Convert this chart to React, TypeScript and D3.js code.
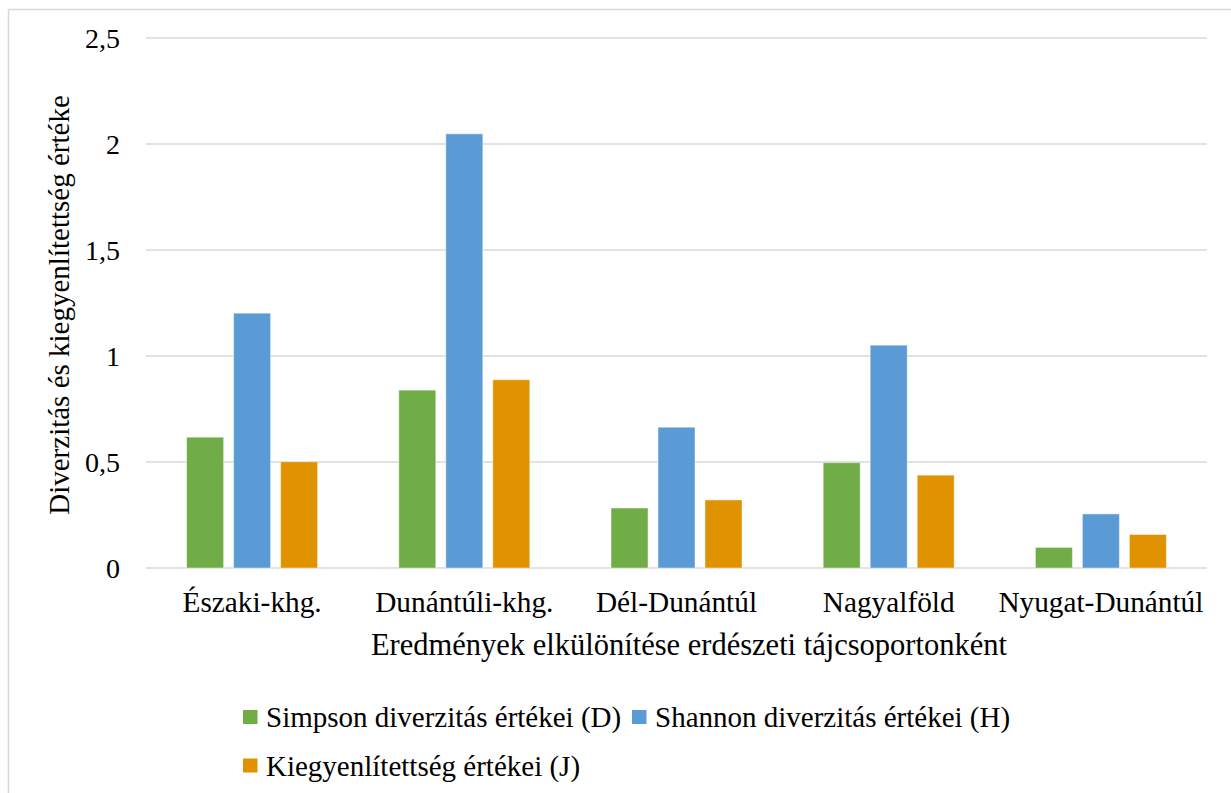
import React from "react";
import * as d3 from "d3";

const categories = ["Északi-khg.", "Dunántúli-khg.", "Dél-Dunántúl", "Nagyalföld", "Nyugat-Dunántúl"];
const simpson = [0.617, 0.839, 0.283, 0.497, 0.097];
const shannon = [1.202, 2.048, 0.664, 1.051, 0.255];
const kiegy = [0.501, 0.888, 0.321, 0.438, 0.158];
const seriesNames = ["Simpson diverzitás értékei (D)", "Shannon diverzitás értékei (H)", "Kiegyenlítettség értékei (J)"];
const seriesColors = ["#70AD47", "#5B9BD5", "#E09200"];
const yTicks = [0, 0.5, 1, 1.5, 2, 2.5];
const yTickLabels = ["0", "0,5", "1", "1,5", "2", "2,5"];
const xTitle = "Eredmények elkülönítése erdészeti tájcsoportonként";
const yTitle = "Diverzitás és kiegyenlítettség értéke";

const W = 1231, H = 793;
const plot = { left: 146, right: 1207, top: 38, bottom: 568 };
const FONT = "'Liberation Serif', 'Times New Roman', serif";

export default function App() {
  const series = [simpson, shannon, kiegy];
  const x = d3.scaleBand<string>().domain(categories).range([plot.left, plot.right]);
  const y = d3.scaleLinear().domain([0, 2.5]).range([plot.bottom, plot.top]);
  const barW = 37;
  const step = 47;
  const xs = d3.scaleBand<number>().domain([0, 1, 2]).range([-step * 1.5, step * 1.5]);

  return (
    <svg width={W} height={H} style={{ position: "absolute", left: 0, top: 0, background: "#fff" }} fontFamily={FONT}>
      <rect x={8.5} y={9.5} width={1400} height={1000} fill="#fff" stroke="#d9d9d9" strokeWidth={1.5} />
      {yTicks.map((t) => (
        <line key={t} x1={plot.left} x2={plot.right} y1={y(t)} y2={y(t)} stroke="#d9d9d9" strokeWidth={1.5} />
      ))}
      {yTicks.map((t, i) => (
        <text key={"l" + t} x={120} y={y(t)} dy="0.35em" textAnchor="end" fontSize={28} fill="#000">
          {yTickLabels[i]}
        </text>
      ))}
      {categories.map((c, ci) => {
        const cx = (x(c) as number) + x.bandwidth() / 2;
        return (
          <g key={c}>
            {series.map((s, si) => (
              <rect
                key={si}
                x={cx + (xs(si) as number) + (xs.bandwidth() - barW) / 2}
                y={y(s[ci])}
                width={barW}
                height={y(0) - y(s[ci])}
                fill={seriesColors[si]}
                stroke="#fff"
                strokeOpacity={0.45}
                strokeWidth={1}
              />
            ))}
            <text x={cx} y={612} textAnchor="middle" fontSize={29.3} fill="#000">{c}</text>
          </g>
        );
      })}
      <text x={689} y={655} textAnchor="middle" fontSize={30.5} fill="#000">{xTitle}</text>
      <text transform={`translate(69, 305) rotate(-90)`} textAnchor="middle" fontSize={29} fill="#000">{yTitle}</text>
      {[
        { i: 0, sx: 243, ty: 717 },
        { i: 1, sx: 632, ty: 717 },
        { i: 2, sx: 243, ty: 765.5 },
      ].map(({ i, sx, ty }) => (
        <g key={i}>
          <rect x={sx} y={ty - 7} width={14.5} height={14} fill={seriesColors[i]} />
          <text x={sx + 23} y={ty + 10} fontSize={29} fill="#000">{seriesNames[i]}</text>
        </g>
      ))}
    </svg>
  );
}
